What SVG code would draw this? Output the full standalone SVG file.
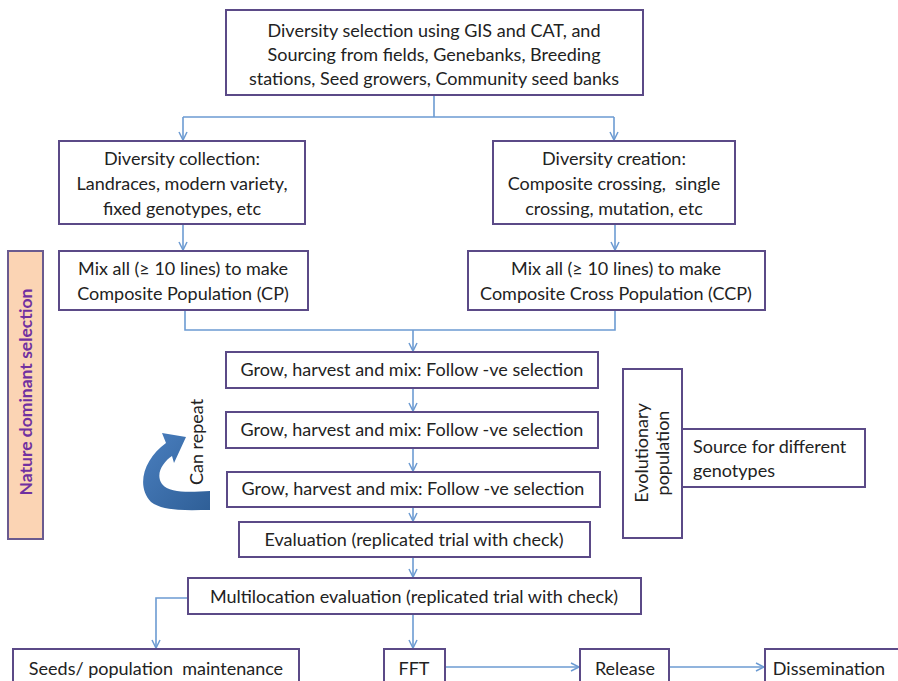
<svg xmlns="http://www.w3.org/2000/svg" width="898" height="681" viewBox="0 0 898 681">
<defs>
<style>
.box{fill:#fff;stroke:#5b4a87;stroke-width:2}
.t{font-family:Lato,"Open Sans","Liberation Sans",sans-serif;font-size:18px;fill:#222;text-anchor:middle;white-space:pre}
.c{fill:none;stroke:#6c9bd2;stroke-width:1.6}
</style>
<marker id="ar" markerUnits="userSpaceOnUse" markerWidth="12" markerHeight="12" refX="9" refY="5" orient="auto">
<path d="M1,1 L9,5 L1,9" fill="none" stroke="#6c9bd2" stroke-width="1.5"/>
</marker>
<linearGradient id="bg" x1="0" y1="0" x2="1" y2="1">
<stop offset="0" stop-color="#4a7fbf"/>
<stop offset="1" stop-color="#2f5f97"/>
</linearGradient>
</defs>
<rect width="898" height="681" fill="#fff"/>

<g id="connectors">
<path class="c" d="M434,95 V117 M183,117 H614"/>
<path class="c" d="M183,117 V140" marker-end="url(#ar)"/>
<path class="c" d="M614,117 V140" marker-end="url(#ar)"/>
<path class="c" d="M183,224 V250" marker-end="url(#ar)"/>
<path class="c" d="M615,224 V250" marker-end="url(#ar)"/>
<path class="c" d="M185,310 V330 H615 V310"/>
<path class="c" d="M413,330 V351" marker-end="url(#ar)"/>
<path class="c" d="M413,388 V411" marker-end="url(#ar)"/>
<path class="c" d="M413,448 V471" marker-end="url(#ar)"/>
<path class="c" d="M413,507 V521" marker-end="url(#ar)"/>
<path class="c" d="M413,557 V577" marker-end="url(#ar)"/>
<path class="c" d="M188,598 H156 V648" marker-end="url(#ar)"/>
<path class="c" d="M413,614 V648" marker-end="url(#ar)"/>
<path class="c" d="M445,667 H579" marker-end="url(#ar)"/>
<path class="c" d="M669,667 H764" marker-end="url(#ar)"/>
</g>

<g id="n-top">
<rect class="box" x="226" y="10" width="417" height="85"/>
<text class="t" x="434" y="37">Diversity selection using GIS and CAT, and</text>
<text class="t" x="434" y="61">Sourcing from fields, Genebanks, Breeding</text>
<text class="t" x="434" y="85">stations, Seed growers, Community seed banks</text>
</g>

<g id="n-collection">
<rect class="box" x="59" y="141" width="246" height="83"/>
<text class="t" x="182" y="165">Diversity collection:</text>
<text class="t" x="182" y="190">Landraces, modern variety,</text>
<text class="t" x="182" y="215">fixed genotypes, etc</text>
</g>

<g id="n-creation">
<rect class="box" x="493" y="141" width="242" height="83"/>
<text class="t" x="614" y="165">Diversity creation:</text>
<text class="t" x="614" y="190">Composite crossing,  single</text>
<text class="t" x="614" y="215">crossing, mutation, etc</text>
</g>

<g id="n-cp">
<rect class="box" x="59" y="251" width="249" height="59"/>
<text class="t" x="183" y="275">Mix all (≥ 10 lines) to make</text>
<text class="t" x="183" y="300">Composite Population (CP)</text>
</g>

<g id="n-ccp">
<rect class="box" x="468" y="251" width="297" height="59"/>
<text class="t" x="616" y="275">Mix all (≥ 10 lines) to make</text>
<text class="t" x="616" y="300">Composite Cross Population (CCP)</text>
</g>

<g id="n-grow1">
<rect class="box" x="226" y="352" width="372" height="36"/>
<text class="t" x="412" y="376">Grow, harvest and mix: Follow -ve selection</text>
</g>
<g id="n-grow2">
<rect class="box" x="226" y="412" width="372" height="36"/>
<text class="t" x="412" y="436">Grow, harvest and mix: Follow -ve selection</text>
</g>
<g id="n-grow3">
<rect class="box" x="227" y="472" width="373" height="35"/>
<text class="t" x="413" y="495">Grow, harvest and mix: Follow -ve selection</text>
</g>

<g id="n-eval">
<rect class="box" x="239" y="522" width="351" height="35"/>
<text class="t" x="414" y="546">Evaluation (replicated trial with check)</text>
</g>

<g id="n-multi">
<rect class="box" x="188" y="578" width="453" height="36"/>
<text class="t" x="414" y="603">Multilocation evaluation (replicated trial with check)</text>
</g>

<g id="n-seeds">
<rect class="box" x="13" y="649" width="286" height="45"/>
<text class="t" x="156" y="675">Seeds/ population  maintenance</text>
</g>
<g id="n-fft">
<rect class="box" x="384" y="649" width="61" height="45"/>
<text class="t" x="414" y="675">FFT</text>
</g>
<g id="n-release">
<rect class="box" x="580" y="649" width="89" height="45"/>
<text class="t" x="625" y="675">Release</text>
</g>
<g id="n-dissemination">
<rect class="box" x="765" y="649" width="140" height="45"/>
<text class="t" x="829" y="675">Dissemination</text>
</g>

<g id="n-nature">
<rect x="8" y="251" width="35" height="288" fill="#fbd4b4" stroke="#6a5a8f" stroke-width="2"/>
<text transform="translate(32,392) rotate(-90)" font-family="Lato,'Open Sans',sans-serif" font-size="17.5" font-weight="bold" fill="#7030a0" text-anchor="middle">Nature dominant selection</text>
</g>

<g id="n-evolutionary">
<rect class="box" x="623" y="369" width="59" height="169"/>
<text class="t" transform="translate(648,453) rotate(-90)">Evolutionary</text>
<text class="t" transform="translate(669,453) rotate(-90)">population</text>
</g>

<g id="n-source">
<rect class="box" x="682" y="429" width="183" height="58"/>
<text class="t" x="693" y="453" style="text-anchor:start">Source for different</text>
<text class="t" x="693" y="477" style="text-anchor:start">genotypes</text>
</g>

<g id="n-repeat">
<path d="M186,437 L162,433 L166,443 C145,458 135,485 151,502 C164,512 190,510 210,510 L210,491 C192,492 170,494 162,484 C155,474 163,462 172,456 L174,463 Z" fill="url(#bg)"/>
<text class="t" transform="translate(203,442) rotate(-90)">Can repeat</text>
</g>
</svg>
